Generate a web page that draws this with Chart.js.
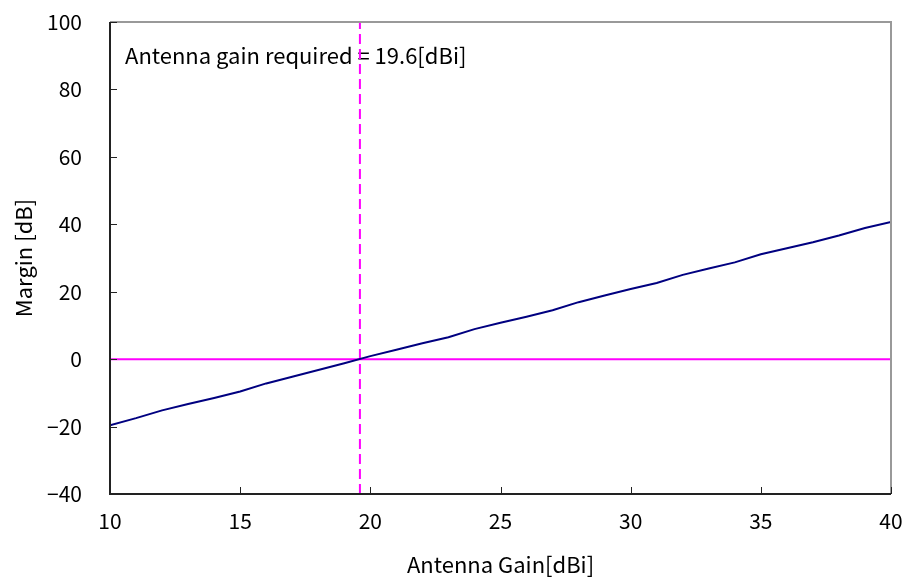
<!DOCTYPE html>
<html>
<head>
<meta charset="utf-8">
<script src="https://cdn.jsdelivr.net/npm/chart.js@4/dist/chart.umd.min.js"></script>
<style>
  html, body { margin: 0; padding: 0; background: #fff; }
  #wrap { width: 907px; height: 579px; position: relative; }
</style>
</head>
<body>
<div id="wrap"><canvas id="chart"></canvas></div>
<script>
'use strict';

// ── Data ──────────────────────────────────────────────────────
const gainDbi   = [10, 11, 12, 13, 14, 15, 16, 17, 18, 19, 20, 21, 22, 23, 24, 25,
                   26, 27, 28, 29, 30, 31, 32, 33, 34, 35, 36, 37, 38, 39, 40];
const marginDb  = [-19.6, -17.5, -15.2, -13.3, -11.5, -9.6, -7.2, -5.2, -3.2, -1.2, 0.9,
                   2.8, 4.7, 6.5, 8.9, 10.8, 12.6, 14.5, 16.9, 18.9, 20.8, 22.6, 25.0,
                   26.9, 28.7, 31.1, 32.9, 34.7, 36.7, 38.9, 40.7];
const requiredGain = 19.6;
const xTicks = [10, 15, 20, 25, 30, 35, 40];
const yTicks = [-40, -20, 0, 20, 40, 60, 80, 100];
const noteText = 'Antenna gain required = 19.6[dBi]';

const FONT = '"Noto Sans CJK JP", "DejaVu Sans", sans-serif';

// ── Plugin: frame, inner ticks, note ──────────────────────────
const framePlugin = {
  id: 'frame',
  beforeDatasetsDraw(chart) {
    const { ctx, chartArea: a } = chart;
    ctx.save();
    ctx.font = '22px ' + FONT;
    ctx.fillStyle = '#000';
    ctx.textBaseline = 'middle';
    ctx.textAlign = 'left';
    ctx.fillText(noteText, a.left + 15, chart.scales.y.getPixelForValue(90));
    ctx.restore();
  },
  afterDatasetsDraw(chart) {
    const { ctx, chartArea: a, scales } = chart;
    ctx.save();
    // top + right in gray
    ctx.strokeStyle = '#999';
    ctx.lineWidth = 2;
    ctx.beginPath();
    ctx.moveTo(a.left, a.top); ctx.lineTo(a.right, a.top); ctx.lineTo(a.right, a.bottom);
    ctx.stroke();
    // left + bottom in black
    ctx.strokeStyle = '#222';
    ctx.beginPath();
    ctx.moveTo(a.left, a.top); ctx.lineTo(a.left, a.bottom); ctx.lineTo(a.right, a.bottom);
    ctx.stroke();
    // inner ticks
    ctx.lineWidth = 1;
    ctx.beginPath();
    xTicks.forEach(v => {
      const px = Math.round(scales.x.getPixelForValue(v)) + 0.5;
      ctx.moveTo(px, a.bottom); ctx.lineTo(px, a.bottom - 7);
    });
    yTicks.forEach(v => {
      const py = Math.round(scales.y.getPixelForValue(v)) + 0.5;
      ctx.moveTo(a.left, py); ctx.lineTo(a.left + 7, py);
    });
    ctx.stroke();
    ctx.restore();
  }
};

// ── Chart ─────────────────────────────────────────────────────
new Chart(document.getElementById('chart'), {
  type: 'line',
  data: {
    datasets: [
      {
        label: 'Margin',
        data: gainDbi.map((g, i) => ({ x: g, y: marginDb[i] })),
        borderColor: '#000080',
        borderWidth: 2,
        pointRadius: 0,
        tension: 0,
      },
      {
        label: 'Zero',
        data: [{ x: xTicks[0], y: 0 }, { x: xTicks[xTicks.length - 1], y: 0 }],
        borderColor: '#ff00ff',
        borderWidth: 2,
        pointRadius: 0,
      },
      {
        label: 'Required',
        data: [{ x: requiredGain, y: yTicks[0] }, { x: requiredGain, y: yTicks[yTicks.length - 1] }],
        borderColor: '#ff00ff',
        borderWidth: 2,
        borderDash: [10, 5],
        pointRadius: 0,
      },
    ],
  },
  options: {
    responsive: true,
    maintainAspectRatio: false,
    animation: false,
    layout: { padding: { top: 22, right: 16, left: 10, bottom: 1 } },
    plugins: {
      legend: { display: false },
      tooltip: { enabled: false },
    },
    scales: {
      x: {
        type: 'linear',
        min: 10, max: 40,
        afterBuildTicks: s => { s.ticks = xTicks.map(v => ({ value: v })); },
        grid: { display: false },
        border: { display: false },
        ticks: { color: '#000', font: { family: FONT, size: 21 }, padding: 6, maxRotation: 0 },
        title: { display: true, text: 'Antenna Gain[dBi]', color: '#000',
                 font: { family: FONT, size: 22 }, padding: { top: 8, bottom: 0 } },
        afterFit: s => { s.height = 84; s.paddingLeft = 0; s.paddingRight = 0; },
      },
      y: {
        type: 'linear',
        min: -40, max: 100,
        afterBuildTicks: s => { s.ticks = yTicks.map(v => ({ value: v })); },
        grid: { display: false },
        border: { display: false },
        ticks: { color: '#000', font: { family: FONT, size: 21 }, padding: 20,
                 callback: v => String(v).replace('-', '\u2212') },
        title: { display: true, text: 'Margin [dB]', color: '#000',
                 font: { family: FONT, size: 22 }, padding: { top: 0, bottom: 0 } },
        afterFit: s => { s.width = 100; s.paddingTop = 0; s.paddingBottom = 0; },
      },
    },
  },
  plugins: [framePlugin],
});
</script>
</body>
</html>
